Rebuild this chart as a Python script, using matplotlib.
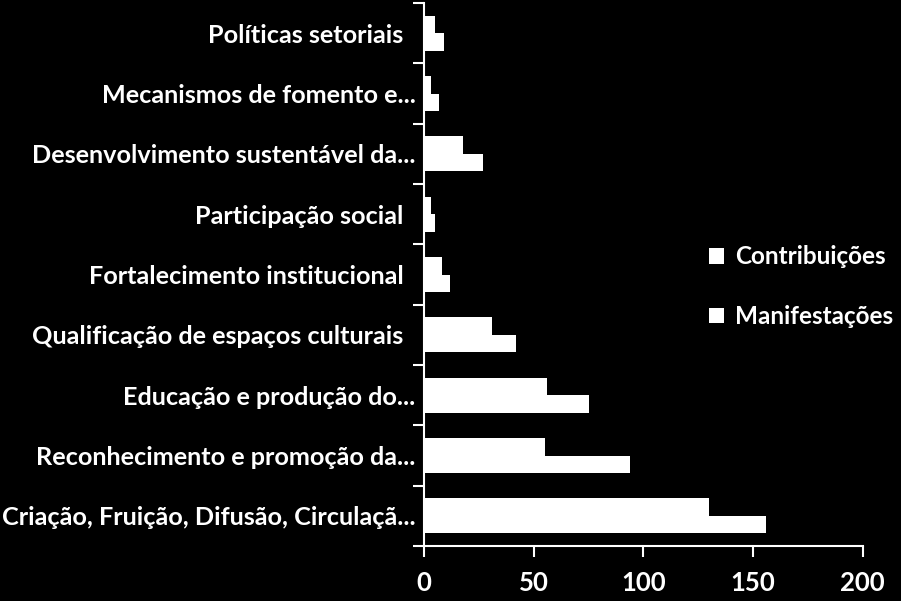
import numpy as np
import matplotlib.pyplot as plt

FONT = ["Lato", "DejaVu Sans"]
plt.rcParams.update({
    "font.family": FONT,
    "text.color": "white",
    "axes.edgecolor": "white",
    "xtick.color": "white",
    "ytick.color": "white",
})

# ── Dados ────────────────────────────────────────────────────
categorias = [
    "Criação, Fruição, Difusão, Circulaçã...",
    "Reconhecimento e promoção da...",
    "Educação e produção do...",
    "Qualificação de espaços culturais  ",
    "Fortalecimento institucional  ",
    "Participação social  ",
    "Desenvolvimento sustentável da...",
    "Mecanismos de fomento e...",
    "Políticas setoriais  ",
]
contribuicoes = [156, 94, 75, 42, 12, 5, 27, 7, 9]
manifestacoes = [130, 55, 56, 31, 8, 3, 18, 3, 5]
x_ticks = [0, 50, 100, 150, 200]

# ── Plot ─────────────────────────────────────────────────────
fig = plt.figure(figsize=(9.01, 6.01), dpi=100, facecolor="black")
ax = fig.add_axes([0.4706, 0.0915, 0.4869, 0.9035], facecolor="black")

y = np.arange(len(categorias))
h = 0.29
ax.barh(y - h / 2, contribuicoes, height=h, color="white", label="Contribuições")
ax.barh(y + h / 2, manifestacoes, height=h, color="white", label="Manifestações")

ax.set_xlim(0, 200)
ax.set_ylim(-0.5, len(categorias) - 0.5)
ax.set_xticks(x_ticks)
ax.set_xticklabels([str(v) for v in x_ticks], fontsize=18.5, fontweight="bold")
ax.tick_params(axis="x", length=8, width=1.5, pad=10)

ax.set_yticks(y)
ax.set_yticklabels(categorias, fontsize=18.2, fontweight="bold")
ax.tick_params(axis="y", which="major", length=0, pad=6)
ax.set_yticks(np.arange(-0.5, len(categorias)), minor=True)
ax.tick_params(axis="y", which="minor", length=8, width=1.5)

for s in ["top", "right"]:
    ax.spines[s].set_visible(False)
for s in ["left", "bottom"]:
    ax.spines[s].set_linewidth(1.5)

fig.legend(
    loc="center left",
    bbox_to_anchor=(0.763, 0.523),
    frameon=False,
    prop={"size": 17.5, "weight": "bold"},
    handlelength=0.6,
    handleheight=0.6,
    handletextpad=0.45,
    labelspacing=1.5,
)

plt.savefig("out.png", dpi=100, facecolor="black")
